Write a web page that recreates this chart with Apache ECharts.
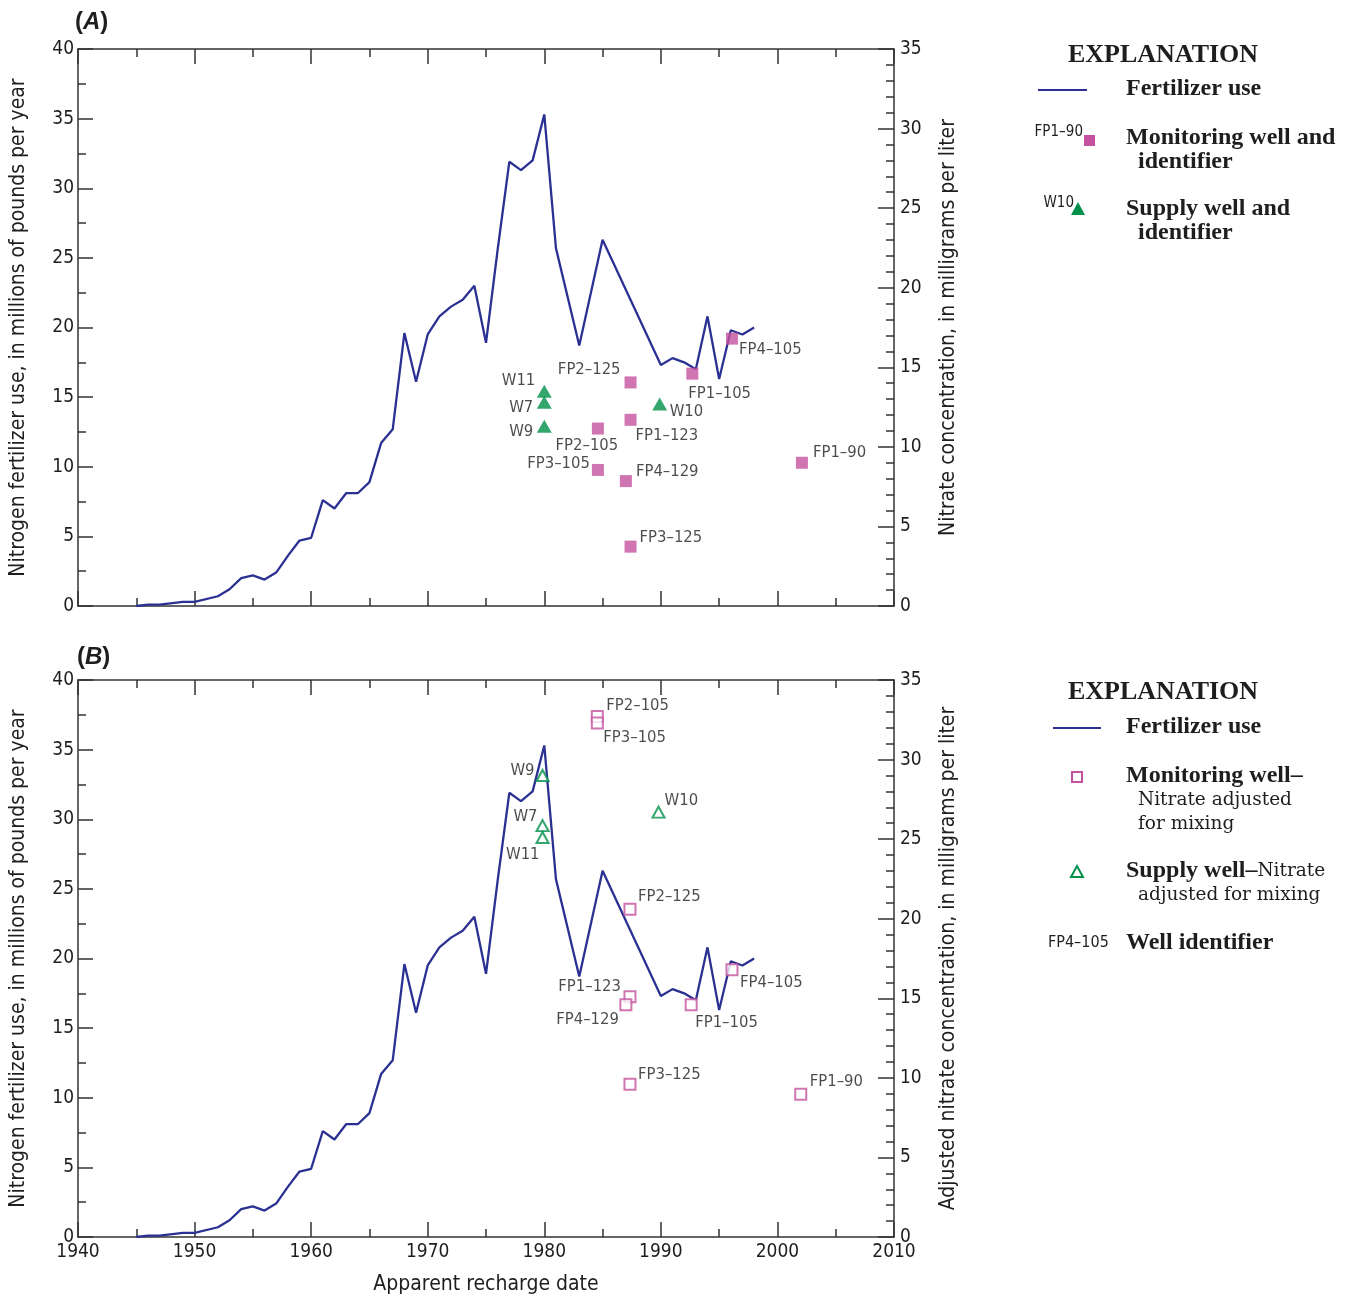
<!DOCTYPE html>
<html>
<head>
<meta charset="utf-8">
<script src="https://cdn.jsdelivr.net/npm/echarts@6/dist/echarts.min.js"></script>
<style>
  html, body { margin: 0; padding: 0; background: #fff; }
  #chart { width: 1350px; height: 1296px; }
</style>
</head>
<body>
<div id="chart"></div>
<script>
// fertilizer use, millions of pounds per year (vertices of the line)
var years = [1945, 1946, 1947, 1949, 1950, 1952, 1953, 1954, 1955, 1956, 1957, 1958, 1959, 1960,
  1961, 1962, 1963, 1964, 1965, 1966, 1967, 1968, 1969, 1970, 1971, 1972, 1973, 1974, 1975, 1976,
  1977, 1978, 1979, 1980, 1981, 1983, 1985, 1990, 1991, 1992, 1993, 1994, 1995, 1996, 1997, 1998]
var fertilizer = [0, 0.1, 0.1, 0.3, 0.3, 0.7, 1.2, 2.0, 2.2, 1.9, 2.4, 3.6, 4.7, 4.9,
  7.6, 7.0, 8.1, 8.1, 8.9, 11.7, 12.7, 19.6, 16.1, 19.5, 20.8, 21.5, 22.0, 23.0, 18.9, 25.6,
  31.9, 31.3, 32.0, 35.3, 25.7, 18.7, 26.3, 17.3, 17.8, 17.5, 17.0, 20.8, 16.3, 19.8, 19.5, 20.0]

// panel A - measured nitrate, mg/L
var monNamesA = ['FP2–125', 'FP1–105', 'FP4–105', 'FP1–123', 'FP2–105', 'FP3–105', 'FP4–129', 'FP3–125', 'FP1–90']
var monDatesA = [1987.4, 1992.7, 1996.1, 1987.4, 1984.6, 1984.6, 1987.0, 1987.4, 2002.1]
var monNitrateA = [14.05, 14.6, 16.8, 11.7, 11.15, 8.55, 7.85, 3.73, 9.0]
var supNamesA = ['W11', 'W7', 'W9', 'W10']
var supDatesA = [1980.0, 1980.0, 1980.0, 1989.9]
var supNitrateA = [13.5, 12.8, 11.3, 12.7]

// panel B - nitrate adjusted for mixing, mg/L
var monNamesB = ['FP2–105', 'FP3–105', 'FP2–125', 'FP1–123', 'FP4–129', 'FP1–105', 'FP4–105', 'FP3–125', 'FP1–90']
var monDatesB = [1984.55, 1984.55, 1987.35, 1987.35, 1987.0, 1992.6, 1996.1, 1987.35, 2002.0]
var monNitrateB = [32.7, 32.3, 20.6, 15.1, 14.6, 14.6, 16.8, 9.6, 8.97]
var supNamesB = ['W9', 'W7', 'W11', 'W10']
var supDatesB = [1979.85, 1979.85, 1979.85, 1989.8]
var supNitrateB = [29.0, 25.85, 25.1, 26.7]

var xTicks = ['1940', '1950', '1960', '1970', '1980', '1990', '2000', '2010']

var SANS = "'Liberation Sans Narrow','DejaVu Sans Condensed','Liberation Sans',sans-serif"
var SERIF = "'Liberation Serif','DejaVu Serif',serif"
var SERIF2 = "'DejaVu Serif','Liberation Serif',serif"
var LINE = '#2b3192'
var PINK = '#c4529f'
var GREEN = '#00904a'
var AXIS = '#333'
var INK = '#1e1e1e'

// where each identifier sits relative to its symbol: [dx, dy, align]
var placeA = {
  'W11': [-9, -10, 'right'], 'W7': [-11, 5, 'right'], 'W9': [-11, 6, 'right'], 'W10': [10, 8, 'left'],
  'FP2–125': [-10, -13, 'right'], 'FP1–123': [5, 16, 'left'], 'FP2–105': [-11, 17, 'center'],
  'FP3–105': [-8, -6, 'right'], 'FP4–129': [10, -9, 'left'], 'FP3–125': [9, -9, 'left'],
  'FP1–105': [-4, 20, 'left'], 'FP4–105': [7, 11, 'left'], 'FP1–90': [11, -10, 'left']
}
var placeB = {
  'FP2–105': [9, -11, 'left'], 'FP3–105': [6, 15, 'left'], 'W9': [-8, -5, 'right'],
  'W7': [-5, -9, 'right'], 'W11': [-3, 17, 'right'], 'W10': [6, -11, 'left'],
  'FP2–125': [8, -12, 'left'], 'FP1–123': [-9, -10, 'right'], 'FP4–129': [-7, 15, 'right'],
  'FP1–105': [4, 18, 'left'], 'FP4–105': [8, 13, 'left'], 'FP3–125': [8, -10, 'left'],
  'FP1–90': [9, -13, 'left']
}

function points(names, dates, vals, place) {
  return names.map(function (n, i) {
    var p = place[n]
    return {
      name: n,
      value: [dates[i], vals[i]],
      label: { offset: [p[0], p[1]], align: p[2] }
    }
  })
}

var lineData = years.map(function (y, i) { return [y, fertilizer[i]] })

var grids = [
  { left: 78, top: 49, width: 816, height: 557 },
  { left: 78, top: 680, width: 816, height: 557 }
]

function xAxisFor(g, pos) {
  var showLabel = (g === 1 && pos === 'bottom')
  return {
    type: 'value', gridIndex: g, position: pos, min: 1940, max: 2010, interval: 10,
    axisLine: { show: true, onZero: false, lineStyle: { color: AXIS, width: 1.5 } },
    axisTick: { show: true, inside: true, length: 15, lineStyle: { color: AXIS, width: 1.5 } },
    minorTick: { show: true, splitNumber: 2, length: 8, lineStyle: { color: AXIS, width: 1.5 } },
    splitLine: { show: false },
    axisLabel: {
      show: showLabel, margin: 6, color: INK, fontFamily: SANS, fontSize: 19,
      formatter: function (v) { return xTicks[(v - 1940) / 10] }
    },
    name: showLabel ? 'Apparent recharge date' : '',
    nameLocation: 'middle', nameGap: 37,
    nameTextStyle: { color: INK, fontFamily: SANS, fontSize: 21 }
  }
}

function yLeft(g) {
  return {
    type: 'value', gridIndex: g, position: 'left', min: 0, max: 40, interval: 5,
    axisLine: { show: true, onZero: false, lineStyle: { color: AXIS, width: 1.5 } },
    axisTick: { show: true, inside: true, length: 15, lineStyle: { color: AXIS, width: 1.5 } },
    minorTick: { show: true, splitNumber: 2, length: 8, lineStyle: { color: AXIS, width: 1.5 } },
    splitLine: { show: false },
    axisLabel: { margin: 4, color: INK, fontFamily: SANS, fontSize: 19 },
    name: 'Nitrogen fertilizer use, in millions of pounds per year',
    nameLocation: 'middle', nameGap: 49, nameRotate: 90,
    nameTextStyle: { color: INK, fontFamily: SANS, fontSize: 21 }
  }
}

function yRight(g, title) {
  return {
    type: 'value', gridIndex: g, position: 'right', min: 0, max: 35, interval: 5,
    axisLine: { show: true, onZero: false, lineStyle: { color: AXIS, width: 1.5 } },
    axisTick: { show: true, inside: true, length: 16, lineStyle: { color: AXIS, width: 1.5 } },
    minorTick: { show: true, splitNumber: 5, length: 8, lineStyle: { color: AXIS, width: 1.5 } },
    splitLine: { show: false },
    axisLabel: { margin: 6, color: INK, fontFamily: SANS, fontSize: 19 },
    name: title,
    nameLocation: 'middle', nameGap: 44, nameRotate: 90,
    nameTextStyle: { color: INK, fontFamily: SANS, fontSize: 21 }
  }
}

var wellLabel = { show: true, position: 'inside', formatter: '{b}', color: INK, fontFamily: SANS, fontSize: 16.5, verticalAlign: 'middle' }

function panelSeries(g, mon, sup, hollow) {
  return [
    {
      type: 'line', xAxisIndex: 2 * g, yAxisIndex: 2 * g, data: lineData,
      showSymbol: false, lineStyle: { color: LINE, width: 2.3 }, z: 2
    },
    {
      type: 'scatter', xAxisIndex: 2 * g, yAxisIndex: 2 * g + 1, data: mon,
      symbol: 'rect', symbolSize: hollow ? 11 : 12,
      itemStyle: hollow ? { color: '#fff', borderColor: PINK, borderWidth: 2 } : { color: PINK },
      label: wellLabel, z: 3
    },
    {
      type: 'scatter', xAxisIndex: 2 * g, yAxisIndex: 2 * g + 1, data: sup,
      symbol: 'triangle', symbolSize: hollow ? [12, 11] : [15, 13],
      itemStyle: hollow ? { color: '#fff', borderColor: GREEN, borderWidth: 2 } : { color: GREEN },
      label: wellLabel, z: 3
    }
  ]
}

var chart = echarts.init(document.getElementById('chart'))

var boldS = { fontFamily: SERIF, fontWeight: 'bold', fontSize: 24, fill: INK }
var regS = { fontFamily: SERIF2, fontSize: 18.5, fill: INK }
function txt(x, y, s, style, extra) {
  return { type: 'text', x: x, y: y, style: Object.assign({ text: s, textVerticalAlign: 'middle' }, style, extra || {}) }
}
var letterRich = {
  p: { fontFamily: 'Liberation Sans', fontWeight: 'bold', fontSize: 24, fill: INK },
  l: { fontFamily: 'Liberation Sans', fontWeight: 'bold', fontStyle: 'italic', fontSize: 24, fill: INK }
}

var graphics = [
  // panel letters
  { type: 'text', x: 75, y: 22, style: { rich: letterRich, text: '{p|(}{l|A}{p|)}', textVerticalAlign: 'middle' } },
  { type: 'text', x: 77, y: 657, style: { rich: letterRich, text: '{p|(}{l|B}{p|)}', textVerticalAlign: 'middle' } },

  // explanation A
  txt(1163, 55, 'EXPLANATION', boldS, { fontSize: 26, textAlign: 'center' }),
  { type: 'line', shape: { x1: 1038, y1: 90, x2: 1087, y2: 90 }, style: { stroke: LINE, lineWidth: 2 } },
  txt(1126, 89, 'Fertilizer use', boldS),
  txt(1083, 132, 'FP1–90', { fontFamily: SANS, fontSize: 15, fill: INK, textAlign: 'right' }),
  { type: 'rect', shape: { x: 1084, y: 135, width: 11, height: 11 }, style: { fill: PINK } },
  txt(1126, 138, 'Monitoring well and', boldS),
  txt(1138, 162, 'identifier', boldS),
  txt(1074, 203, 'W10', { fontFamily: SANS, fontSize: 15, fill: INK, textAlign: 'right' }),
  { type: 'polygon', shape: { points: [[1078, 202], [1085, 215], [1071, 215]] }, style: { fill: GREEN } },
  txt(1126, 209, 'Supply well and', boldS),
  txt(1138, 233, 'identifier', boldS),

  // explanation B
  txt(1163, 692, 'EXPLANATION', boldS, { fontSize: 26, textAlign: 'center' }),
  { type: 'line', shape: { x1: 1053, y1: 728, x2: 1101, y2: 728 }, style: { stroke: LINE, lineWidth: 2 } },
  txt(1126, 727, 'Fertilizer use', boldS),
  { type: 'rect', shape: { x: 1072, y: 772, width: 10, height: 10 }, style: { fill: '#fff', stroke: PINK, lineWidth: 2 } },
  txt(1126, 776, 'Monitoring well–', boldS),
  txt(1138, 800, 'Nitrate adjusted', regS),
  txt(1138, 824, 'for mixing', regS),
  { type: 'polygon', shape: { points: [[1077, 866], [1083, 877], [1071, 877]] }, style: { fill: '#fff', stroke: GREEN, lineWidth: 2 } },
  { type: 'text', x: 1126, y: 871, style: { rich: { b: { fontFamily: SERIF, fontWeight: 'bold', fontSize: 24, fill: INK }, r: { fontFamily: SERIF2, fontSize: 18.5, fill: INK } }, text: '{b|Supply well–}{r|Nitrate}', textVerticalAlign: 'middle' } },
  txt(1138, 895, 'adjusted for mixing', regS),
  txt(1048, 943, 'FP4–105', { fontFamily: SANS, fontSize: 16, fill: INK }),
  txt(1126, 943, 'Well identifier', boldS)
]

var option = {
  animation: false,
  backgroundColor: '#fff',
  grid: grids,
  xAxis: [xAxisFor(0, 'bottom'), xAxisFor(0, 'top'), xAxisFor(1, 'bottom'), xAxisFor(1, 'top')],
  yAxis: [
    yLeft(0), yRight(0, 'Nitrate concentration, in milligrams per liter'),
    yLeft(1), yRight(1, 'Adjusted nitrate concentration, in milligrams per liter')
  ],
  series: [].concat(
    panelSeries(0, points(monNamesA, monDatesA, monNitrateA, placeA), points(supNamesA, supDatesA, supNitrateA, placeA), false),
    panelSeries(1, points(monNamesB, monDatesB, monNitrateB, placeB), points(supNamesB, supDatesB, supNitrateB, placeB), true)
  ),
  graphic: graphics
}

chart.setOption(option)
</script>
</body>
</html>
